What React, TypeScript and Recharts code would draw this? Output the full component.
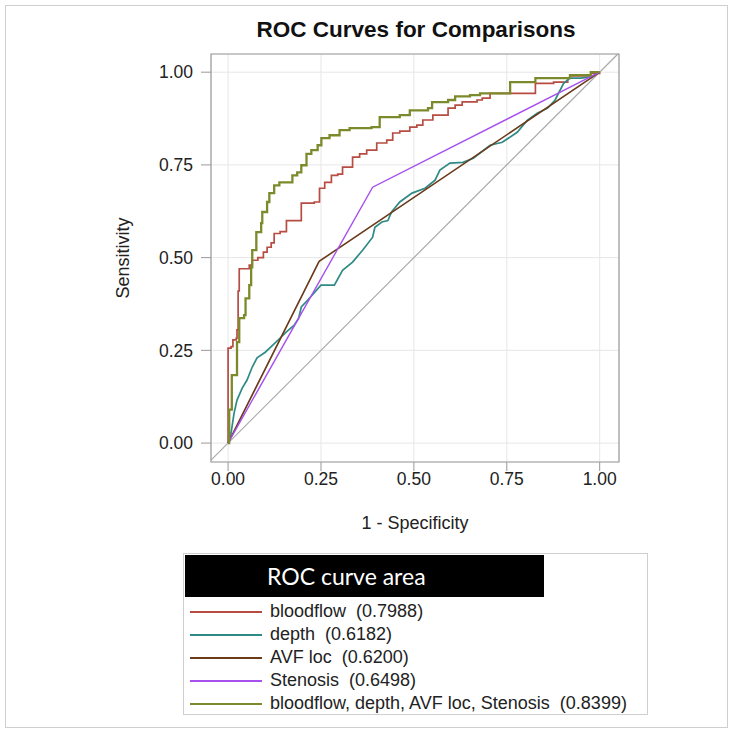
import { LineChart, Line, XAxis, YAxis, CartesianGrid, ReferenceLine, ReferenceArea } from 'recharts';

const X_MIN = -0.046;
const X_MAX = 1.052;
const Y_MIN = -0.051;
const Y_MAX = 1.049;
const TICKS = [0, 0.25, 0.5, 0.75, 1];

// false positive rate / true positive rate pairs
const bloodflowFpr = [0, 0, 0.008, 0.013, 0.022, 0.024, 0.027, 0.03, 0.057, 0.065, 0.08, 0.095, 0.105, 0.116, 0.124, 0.14, 0.157, 0.19, 0.197, 0.232, 0.246, 0.26, 0.278, 0.295, 0.308, 0.335, 0.354, 0.373, 0.4, 0.427, 0.443, 0.462, 0.489, 0.508, 0.524, 0.551, 0.592, 0.611, 0.63, 0.67, 0.684, 0.705, 0.827, 0.827, 0.876, 0.914, 0.92, 0.976, 1];
const bloodflowTpr = [0, 0.256, 0.26, 0.278, 0.283, 0.305, 0.41, 0.47, 0.48, 0.493, 0.5, 0.515, 0.528, 0.54, 0.565, 0.57, 0.6, 0.6, 0.647, 0.65, 0.687, 0.703, 0.722, 0.725, 0.744, 0.771, 0.78, 0.79, 0.809, 0.817, 0.836, 0.841, 0.852, 0.857, 0.871, 0.884, 0.903, 0.911, 0.92, 0.925, 0.93, 0.943, 0.943, 0.97, 0.973, 0.984, 0.99, 0.997, 1];

const depthFpr = [0, 0.008, 0.016, 0.024, 0.038, 0.051, 0.065, 0.078, 0.1, 0.116, 0.143, 0.157, 0.178, 0.19, 0.197, 0.214, 0.25, 0.286, 0.308, 0.335, 0.362, 0.389, 0.395, 0.414, 0.43, 0.44, 0.462, 0.495, 0.53, 0.557, 0.57, 0.597, 0.632, 0.66, 0.705, 0.738, 0.778, 0.805, 0.832, 0.86, 0.88, 0.903, 0.92, 0.949, 0.976, 1];
const depthTpr = [0, 0.027, 0.08, 0.116, 0.148, 0.17, 0.205, 0.23, 0.245, 0.26, 0.286, 0.3, 0.318, 0.337, 0.367, 0.385, 0.426, 0.426, 0.466, 0.488, 0.52, 0.555, 0.582, 0.596, 0.6, 0.623, 0.65, 0.674, 0.687, 0.709, 0.736, 0.755, 0.757, 0.768, 0.803, 0.811, 0.838, 0.87, 0.889, 0.903, 0.925, 0.97, 0.984, 0.984, 0.987, 1];

const avfFpr = [0, 0.245, 1];
const avfTpr = [0, 0.49, 1];

const stenosisFpr = [0, 0.389, 1];
const stenosisTpr = [0, 0.69, 1];

const combinedFpr = [0, 0.003, 0.003, 0.01, 0.01, 0.024, 0.024, 0.03, 0.035, 0.043, 0.047, 0.057, 0.062, 0.065, 0.076, 0.089, 0.092, 0.105, 0.111, 0.124, 0.138, 0.165, 0.173, 0.186, 0.197, 0.211, 0.224, 0.241, 0.251, 0.273, 0.3, 0.327, 0.386, 0.408, 0.462, 0.489, 0.538, 0.549, 0.592, 0.611, 0.651, 0.678, 0.759, 0.827, 0.92, 0.976, 1];
const combinedTpr = [0, 0, 0.09, 0.09, 0.183, 0.183, 0.272, 0.337, 0.337, 0.345, 0.39, 0.426, 0.474, 0.52, 0.569, 0.593, 0.623, 0.65, 0.674, 0.695, 0.703, 0.703, 0.722, 0.73, 0.749, 0.78, 0.79, 0.803, 0.822, 0.83, 0.844, 0.849, 0.852, 0.879, 0.884, 0.897, 0.903, 0.919, 0.925, 0.935, 0.938, 0.943, 0.973, 0.984, 0.992, 1, 1];

const seriesNames = ['bloodflow', 'depth', 'AVF loc', 'Stenosis', 'bloodflow, depth, AVF loc, Stenosis'];
const seriesAreas = ['0.7988', '0.6182', '0.6200', '0.6498', '0.8399'];
const seriesColors = ['#b64c42', '#2f8a85', '#6b3a1a', '#a650ee', '#7d8a2c'];

const toPoints = (fpr: number[], tpr: number[]) => fpr.map((x, i) => ({ x, y: tpr[i] }));

const series = [
  { data: toPoints(bloodflowFpr, bloodflowTpr), type: 'stepAfter', width: 1.7 },
  { data: toPoints(depthFpr, depthTpr), type: 'linear', width: 1.7 },
  { data: toPoints(avfFpr, avfTpr), type: 'linear', width: 1.6 },
  { data: toPoints(stenosisFpr, stenosisTpr), type: 'linear', width: 1.4 },
  { data: toPoints(combinedFpr, combinedTpr), type: 'stepAfter', width: 2.3 },
];

const font = '"Liberation Sans", Arial, sans-serif';
const fmt = (v: number) => v.toFixed(2);

export default function App() {
  return (
    <div style={{ position: 'absolute', left: 0, top: 0, width: 733, height: 733, background: '#fff', fontFamily: font }}>
      <div style={{ position: 'absolute', left: 5, top: 5, width: 721, height: 721, border: '1px solid #cfcfcf' }} />
      <div style={{ position: 'absolute', left: 0, top: 17, width: 832, textAlign: 'center', fontSize: 22.5, fontWeight: 'bold', color: '#111' }}>
        ROC Curves for Comparisons
      </div>
      <LineChart width={733} height={733} margin={{ top: 54, right: 114, bottom: 201, left: 113 }} style={{ position: 'absolute', left: 0, top: 0 }}>
        <CartesianGrid stroke="#e6e6e6" />
        <XAxis
          type="number"
          dataKey="x"
          domain={[X_MIN, X_MAX]}
          ticks={TICKS}
          allowDataOverflow
          tickFormatter={fmt}
          height={70}
          axisLine={false}
          tickSize={9}
          tickMargin={2}
          tickLine={{ stroke: '#999' }}
          tick={{ fill: '#222', fontSize: 17.5, fontFamily: font }}
          label={{ value: '1 - Specificity', position: 'insideBottom', offset: 3, fill: '#222', fontSize: 18, fontFamily: font }}
        />
        <YAxis
          type="number"
          dataKey="y"
          domain={[Y_MIN, Y_MAX]}
          ticks={TICKS}
          allowDataOverflow
          tickFormatter={fmt}
          width={98}
          axisLine={false}
          tickSize={10}
          tickMargin={8}
          tickLine={{ stroke: '#999' }}
          tick={{ fill: '#222', fontSize: 17.5, fontFamily: font }}
          label={{ value: 'Sensitivity', angle: -90, position: 'insideLeft', offset: 10, fill: '#222', fontSize: 18, fontFamily: font, style: { textAnchor: 'middle' } }}
        />
        <ReferenceLine segment={[{ x: X_MIN, y: X_MIN }, { x: Y_MAX, y: Y_MAX }]} stroke="#aaaaaa" strokeWidth={1.2} />
        {series.map((s, i) => (
          <Line
            key={seriesNames[i]}
            data={s.data}
            dataKey="y"
            type={s.type as any}
            stroke={seriesColors[i]}
            strokeWidth={s.width}
            dot={false}
            activeDot={false}
            isAnimationActive={false}
          />
        ))}
        <ReferenceArea x1={X_MIN} x2={X_MAX} y1={Y_MIN} y2={Y_MAX} fill="none" stroke="#9c9c9c" strokeWidth={1.2} />
      </LineChart>
      <div style={{ position: 'absolute', left: 183, top: 553, width: 465, height: 162, border: '1px solid #cfcfcf', boxSizing: 'border-box' }}>
        <div style={{ position: 'absolute', left: 1, top: 1, width: 359, height: 42, background: '#000', color: '#fff', fontFamily: 'Lato, "Open Sans", sans-serif', fontSize: 23, lineHeight: '42px', paddingLeft: 82, boxSizing: 'border-box' }}>
          ROC curve area
        </div>
        {seriesNames.map((name, i) => (
          <div key={name} style={{ position: 'absolute', left: 0, top: 46 + i * 23, height: 23, display: 'flex', alignItems: 'center', whiteSpace: 'nowrap' }}>
            <div style={{ marginLeft: 6, width: 72, height: 2, background: seriesColors[i] }} />
            <span style={{ marginLeft: 8, fontSize: 18, color: '#222' }}>
              {name}&nbsp;&nbsp;({seriesAreas[i]})
            </span>
          </div>
        ))}
      </div>
    </div>
  );
}
